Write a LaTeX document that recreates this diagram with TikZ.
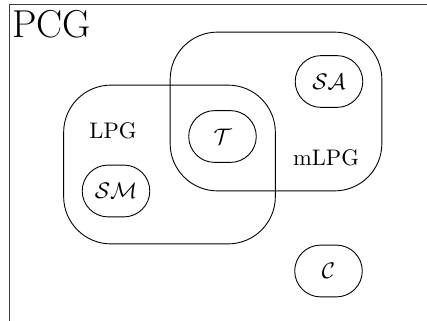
\documentclass[tikz,border=0pt]{standalone}
\usepackage{amsmath,amssymb}
\usepackage{tikz}
\usetikzlibrary{positioning}

\tikzset{
  setbox/.style={draw, rounded corners=21pt, minimum width=94pt, minimum height=70.5pt},
  elem/.style={draw, rounded corners=11.5pt, minimum width=30pt, minimum height=23pt, inner sep=0pt}
}

\begin{document}
\begin{tikzpicture}[x=0.444pt,y=-0.444pt]
            \useasboundingbox (0,0) rectangle (427,321);
            % frame of PCG
            \coordinate (fbl) at (9.5,321);
            \coordinate (ftl) at (9.5,4);
            \coordinate (ftr) at (427,4);
            \draw [black!75] (fbl) -- (ftl) -- (ftr);
            \node [anchor=north west, inner sep=0pt, font=\LARGE] (pcg) at (12,10) {PCG};

            % the two sets
            \node [setbox] (lpg) at (169.5,164.5) {};
            \node [setbox] (mlpg) at (276,111.5) {};
            \node (lpglabel) at (113,131) {LPG};
            \node (mlpglabel) at (326,158) {mLPG};

            % elements
            \node [elem] (sa) at (329,81.5) {$\mathcal{SA}$};
            \node [elem] (t) at (222.5,136.5) {$\mathcal{T}$};
            \node [elem] (sm) at (116,191) {$\mathcal{SM}$};
            \node [elem] (c) at (328.5,271) {$\mathcal{C}$};
        \end{tikzpicture}
\end{document}
